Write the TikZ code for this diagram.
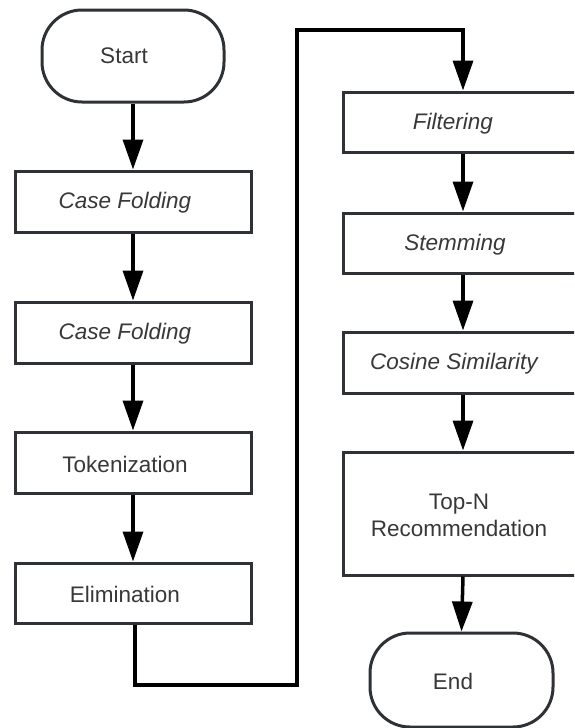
\documentclass[tikz,border=0pt]{standalone}
\usepackage{fontspec}
\setmainfont{Liberation Sans}
\usetikzlibrary{arrows.meta}
\definecolor{bordercol}{HTML}{2E3136}
\definecolor{txtcol}{HTML}{383838}
\begin{document}
\begin{tikzpicture}[x=1pt,y=-1pt,
  box/.style={draw=bordercol,line width=3pt,rectangle,fill=white},
  term/.style={draw=bordercol,line width=3pt,rectangle,rounded corners=40pt,fill=white},
  lbl/.style={font=\fontsize{22.5}{27}\selectfont,text=txtcol,align=center,inner sep=0pt},
  conn/.style={draw=black,line width=3.5pt},
  arr/.style={conn,-{Triangle[width=20pt,length=30pt]}}
]
\useasboundingbox (0,0) rectangle (574,728);
\clip (0,0) rectangle (574,728);
% left column
\node[term,minimum width=182pt,minimum height=92pt] (start) at (133,56) {};
\node[lbl] (startt) at (124,56) {Start};
\node[box,minimum width=236pt,minimum height=61pt] (cf1) at (133,201.5) {};
\node[lbl,font=\fontsize{22.5}{27}\selectfont\itshape] (cf1t) at (125,203) {Case Folding};
\node[box,minimum width=236pt,minimum height=61pt] (cf2) at (133,332.5) {};
\node[lbl,font=\fontsize{22.5}{27}\selectfont\itshape] (cf2t) at (125,334) {Case Folding};
\node[box,minimum width=236pt,minimum height=61pt] (tok) at (133,462.5) {};
\node[lbl] (tokt) at (125,464) {Tokenization};
\node[box,minimum width=236pt,minimum height=60pt] (elim) at (133,593) {};
\node[lbl] (elimt) at (125,594) {Elimination};
% right column
\node[box,minimum width=240pt,minimum height=60pt] (filt) at (463,122) {};
\node[lbl,font=\fontsize{22.5}{27}\selectfont\itshape] (filtt) at (453,124) {Filtering};
\node[box,minimum width=240pt,minimum height=60pt] (stem) at (463,243) {};
\node[lbl,font=\fontsize{22.5}{27}\selectfont\itshape] (stemt) at (455,245) {Stemming};
\node[box,minimum width=240pt,minimum height=61pt] (cos) at (463,362.5) {};
\node[lbl,font=\fontsize{22.5}{27}\selectfont\itshape] (cost) at (454,364) {Cosine Similarity};
\node[box,minimum width=240pt,minimum height=123pt] (topn) at (463,513.5) {};
\node[lbl] (topnt) at (459,515) {Top-N\\Recommendation};
\node[term,minimum width=183pt,minimum height=94pt] (end) at (461.5,680) {};
\node[lbl] (endt) at (453,681) {End};
% connectors
\draw[arr] (start.south) -- (cf1.north);
\draw[arr] (cf1.south) -- (cf2.north);
\draw[arr] (cf2.south) -- (tok.north);
\draw[arr] (tok.south) -- (elim.north);
\coordinate (lb) at (297,685);
\coordinate (lt) at (297,30);
\draw[arr] ([xshift=2pt]elim.south) |- (lb) -- (lt) -| (filt.north);
\draw[arr] (filt.south) -- (stem.north);
\draw[arr] (stem.south) -- (cos.north);
\draw[arr] (cos.south) -- (topn.north);
\draw[arr] (topn.south) -- (end.north);
\end{tikzpicture}
\end{document}
